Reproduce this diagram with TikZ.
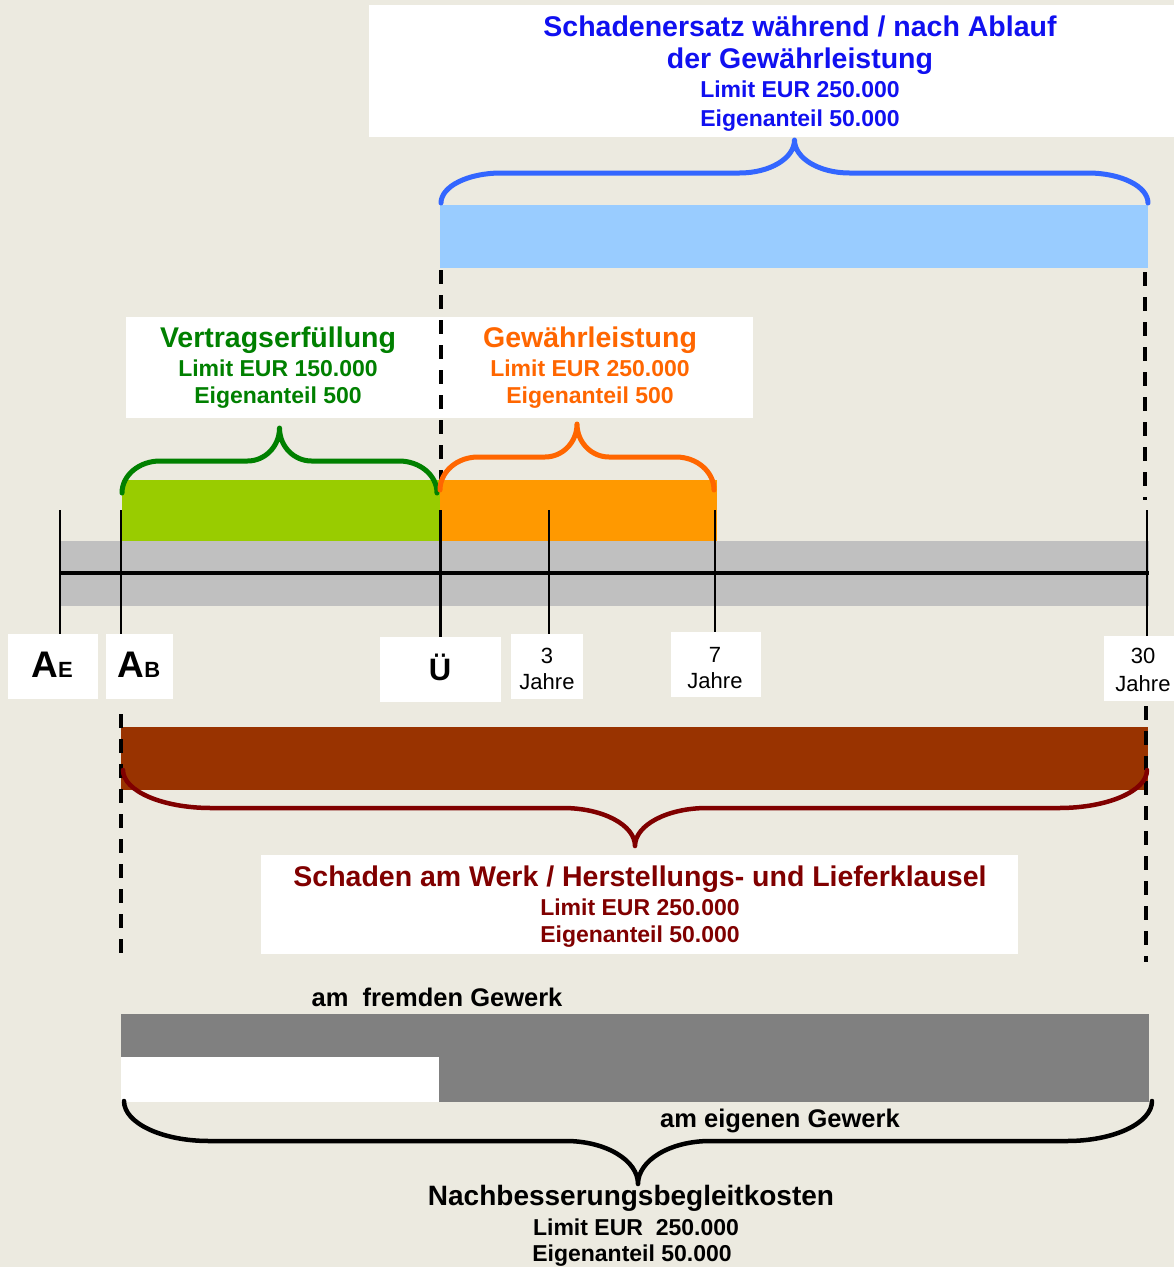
\documentclass[tikz,border=0pt]{standalone}
\usepackage{fontspec}
\setmainfont{Liberation Sans}
\definecolor{bgc}{RGB}{236,234,224}
\definecolor{tblue}{RGB}{16,16,240}
\definecolor{bbrc}{RGB}{51,102,255}
\definecolor{lblue}{RGB}{153,204,255}
\definecolor{tgreen}{RGB}{0,128,0}
\definecolor{bgreen}{RGB}{153,204,0}
\definecolor{torange}{RGB}{255,102,0}
\definecolor{borange}{RGB}{255,153,0}
\definecolor{lgray}{RGB}{192,192,192}
\definecolor{dgray}{RGB}{128,128,128}
\definecolor{brbar}{RGB}{153,51,0}
\definecolor{maroon}{RGB}{128,0,0}
\newcommand{\setfs}[1]{\fontsize{#1}{#1}\selectfont}
% #1 style, #2 x1, #3 x2, #4 y of ends, #5 y of middle, #6 y of tip, #7 corner width, #8 cusp width
\newcommand{\drawbrace}[8]{%
  \pgfmathsetmacro{\bxc}{(#2+#3)/2}%
  \pgfmathsetmacro{\bya}{#4+0.552*(#5-#4)}%
  \pgfmathsetmacro{\byb}{#6-0.552*(#6-#5)}%
  \draw[#1] (#2,#4) .. controls (#2,\bya) and ({#2+0.448*#7},#5) .. ({#2+#7},#5)
     -- ({\bxc-#8},#5)
     .. controls ({\bxc-0.448*#8},#5) and (\bxc,\byb) .. (\bxc,#6)
     .. controls (\bxc,\byb) and ({\bxc+0.448*#8},#5) .. ({\bxc+#8},#5)
     -- ({#3-#7},#5)
     .. controls ({#3-0.448*#7},#5) and (#3,\bya) .. (#3,#4);%
}
\begin{document}
\begin{tikzpicture}[x=1pt,y=-1pt,
  txt/.style={inner sep=0pt, anchor=base, font=\bfseries\setfs{23}},
  ttl/.style={inner sep=0pt, anchor=base, font=\bfseries\setfs{28.5}},
  yrs/.style={inner sep=0pt, anchor=base, font=\setfs{22}},
  brc/.style={line width=5pt, line cap=round, line join=round},
  dashln/.style={line width=3.5pt, dash pattern=on 14pt off 11pt},
  tickln/.style={line width=2.5pt}]
\useasboundingbox (0,0) rectangle (1174,1267);
\fill[bgc] (0,0) rectangle (1174,1267);

% ---- top: Schadenersatz
\fill[white] (369,5) rectangle (1174,137);
\node[ttl, text=tblue] (s1) at (800,36) {Schadenersatz während / nach Ablauf};
\node[ttl, text=tblue] (s2) at (800,68) {der Gewährleistung};
\node[txt, text=tblue] (s3) at (800,97) {Limit EUR 250.000};
\node[txt, text=tblue] (s4) at (800,126) {Eigenanteil 50.000};
\fill[lblue] (440,205) rectangle (1148,268);
\drawbrace{brc, bbrc}{441}{1148}{203}{173}{140}{60}{55}

% ---- Vertragserfuellung / Gewaehrleistung
\fill[white] (126,317) rectangle (753,418);
\draw[dashln] (441,270) -- (441,480);
\draw[dashln] (1145,272) -- (1145,500);
\node[ttl, text=tgreen] (v1) at (278,347) {Vertragserfüllung};
\node[txt, text=tgreen] (v2) at (278,376) {Limit EUR 150.000};
\node[txt, text=tgreen] (v3) at (278,403) {Eigenanteil 500};
\node[ttl, text=torange] (g1) at (590,347) {Gewährleistung};
\node[txt, text=torange] (g2) at (590,376) {Limit EUR 250.000};
\node[txt, text=torange] (g3) at (590,403) {Eigenanteil 500};
\fill[bgreen] (122,480) rectangle (440,541);
\fill[borange] (440,480) rectangle (717,541);
\drawbrace{brc, tgreen}{122}{437}{493}{461}{428}{38}{32}
\drawbrace{brc, torange}{440}{714}{490}{457}{424}{38}{32}

% ---- time axis
\fill[lgray] (61,541) rectangle (1149,606);
\draw[line width=3.5pt] (60,573) -- (1149,573);
\draw[tickln] (60,510) -- (60,634);
\draw[tickln] (121,510) -- (121,634);
\draw[line width=3pt] (440,510) -- (440,637);
\draw[tickln] (549,510) -- (549,634);
\draw[tickln] (715,510) -- (715,632);
\draw[tickln] (1147,510) -- (1147,636);

\fill[white] (8,634) rectangle (98,699);
\fill[white] (106,634) rectangle (173,699);
\fill[white] (380,637) rectangle (501,702);
\fill[white] (511,634) rectangle (583,699);
\fill[white] (671,632) rectangle (761,697);
\fill[white] (1104,636) rectangle (1174,701);
\node[inner sep=0pt, anchor=base, font=\bfseries\setfs{37}] (ae) at (52,677) {A{\setfs{22}E}};
\node[inner sep=0pt, anchor=base, font=\bfseries\setfs{37}] (ab) at (139,677) {A{\setfs{22}B}};
\node[inner sep=0pt, anchor=base, font=\bfseries\setfs{31}] (ue) at (440,680) {Ü};
\node[yrs] (n3) at (547,663) {3};
\node[yrs] (j3) at (547,689) {Jahre};
\node[yrs] (n7) at (715,662) {7};
\node[yrs] (j7) at (715,688) {Jahre};
\node[yrs] (n30) at (1143,663) {30};
\node[yrs] (j30) at (1143,691) {Jahre};

% ---- Schaden am Werk
\fill[brbar] (121,727) rectangle (1148,790);
\draw[dashln] (121,714) -- (121,960);
\draw[dashln] (1146,706) -- (1146,962);
\drawbrace{brc, maroon, line width=4.5pt}{123}{1147}{770}{808}{846}{88}{72}
\fill[white] (261,855) rectangle (1018,954);
\node[ttl, text=maroon] (w1) at (640,886) {Schaden am Werk / Herstellungs- und Lieferklausel};
\node[txt, text=maroon] (w2) at (640,915) {Limit EUR 250.000};
\node[txt, text=maroon] (w3) at (640,942) {Eigenanteil 50.000};

% ---- Nachbesserungsbegleitkosten
\node[inner sep=0pt, anchor=base, font=\bfseries\setfs{25.5}] (fg) at (437,1006) {am\ \ fremden Gewerk};
\fill[dgray] (121,1014) rectangle (1149,1102);
\fill[white] (121,1057) rectangle (439,1102);
\drawbrace{brc, black, line width=4.5pt}{124}{1152}{1101}{1141}{1184}{85}{72}
\node[inner sep=0pt, anchor=base, font=\bfseries\setfs{25.5}] (eg) at (780,1127) {am eigenen Gewerk};
\node[ttl, font=\bfseries\setfs{28}] (nb1) at (631,1205) {Nachbesserungsbegleitkosten};
\node[txt] (nb2) at (636,1235) {Limit EUR\ \ 250.000};
\node[txt] (nb3) at (632,1261) {Eigenanteil 50.000};
\end{tikzpicture}
\end{document}
